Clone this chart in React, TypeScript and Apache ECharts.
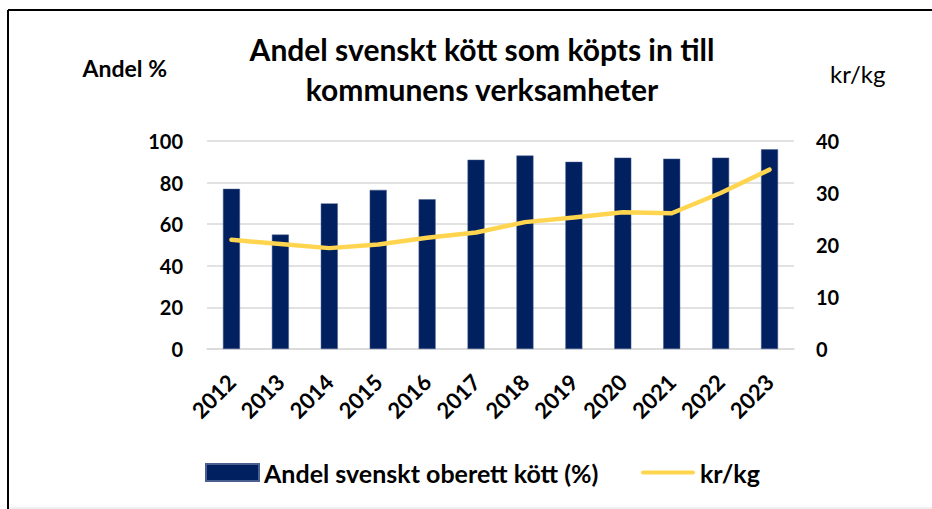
import React, { useEffect, useRef } from "react";
import * as echarts from "echarts";

const years = ["2012", "2013", "2014", "2015", "2016", "2017", "2018", "2019", "2020", "2021", "2022", "2023"];
const andelSvenskt = [77, 55, 70, 76.5, 72, 91, 93, 90, 92, 91.5, 92, 96];
const krPerKg = [21, 20.2, 19.4, 20.1, 21.4, 22.4, 24.4, 25.3, 26.3, 26.1, 30, 34.5];
const leftTicks = { min: 0, max: 100, interval: 20 };
const rightTicks = { min: 0, max: 40, interval: 10 };

const FONT = "Lato";
const BAR_COLOR = "#002060";
const LINE_COLOR = "#FFD54F";

export default function App() {
  const ref = useRef<HTMLDivElement>(null);
  useEffect(() => {
    if (!ref.current) return;
    const chart = echarts.init(ref.current, null, { renderer: "svg" });
    chart.setOption({
      animation: false,
      backgroundColor: "#ffffff",
      textStyle: { fontFamily: FONT },
      title: {
        text: "Andel svenskt kött som köpts in till\nkommunens verksamheter",
        left: 477,
        textAlign: "center",
        top: 24,
        textStyle: { fontFamily: FONT, fontSize: 30, fontWeight: "bold", color: "#000", lineHeight: 40 },
      },
      graphic: [
        { type: "line", shape: { x1: 8, y1: 10, x2: 932, y2: 10 }, style: { stroke: "#000", lineWidth: 2 } },
        { type: "line", shape: { x1: 8, y1: 10, x2: 8, y2: 509 }, style: { stroke: "#000", lineWidth: 2 } },
        { type: "line", shape: { x1: 9, y1: 508, x2: 932, y2: 508 }, style: { stroke: "#e0e0e0", lineWidth: 1 } },
      ],
      legend: [
        {
          data: ["Andel svenskt oberett kött (%)"],
          left: 205,
          top: 460,
          padding: 0,
          itemWidth: 53,
          itemHeight: 17,
          itemGap: 5,
          icon: "rect",
          textStyle: { fontFamily: FONT, fontSize: 25, fontWeight: "bold", color: "#000" },
        },
        {
          data: ["kr/kg"],
          left: 641,
          top: 460,
          padding: 0,
          itemWidth: 54,
          itemHeight: 17,
          icon: "path://M2,6 L52,6 A2,2 0 0 1 52,10 L2,10 A2,2 0 0 1 2,6 Z",
          textStyle: { fontFamily: FONT, fontSize: 25, fontWeight: "bold", color: "#000" },
        },
      ],
      grid: { left: 207, right: 138, top: 141, bottom: 160, containLabel: false },
      xAxis: {
        type: "category",
        data: years,
        axisTick: { show: false },
        axisLine: { lineStyle: { color: "#D9D9D9", width: 1.5 } },
        axisLabel: {
          rotate: 45,
          margin: 29,
          fontFamily: FONT,
          fontSize: 22,
          fontWeight: "bold",
          color: "#000",
        },
      },
      yAxis: [
        {
          type: "value",
          ...leftTicks,
          name: "Andel %",
          nameLocation: "end",
          nameGap: 62,
          nameTextStyle: { fontFamily: FONT, fontSize: 23, fontWeight: "bold", color: "#000", align: "right", padding: [0, 40, 0, 0] },
          axisLine: { show: false },
          axisTick: { show: false },
          axisLabel: { margin: 24, fontFamily: FONT, fontSize: 20, fontWeight: "bold", color: "#000" },
          splitLine: { lineStyle: { color: "#D9D9D9", width: 1.5 } },
        },
        {
          type: "value",
          ...rightTicks,
          name: "kr/kg",
          nameLocation: "end",
          nameGap: 56,
          nameTextStyle: { fontFamily: FONT, fontSize: 24, color: "#000", align: "left", padding: [0, 0, 0, 36] },
          axisLine: { show: false },
          axisTick: { show: false },
          axisLabel: { margin: 22, fontFamily: FONT, fontSize: 20, fontWeight: "bold", color: "#000" },
          splitLine: { show: false },
        },
      ],
      series: [
        {
          name: "Andel svenskt oberett kött (%)",
          type: "bar",
          data: andelSvenskt,
          barWidth: 17,
          itemStyle: { color: BAR_COLOR, borderColor: "#4a5f8f", borderWidth: 0.5 },
          yAxisIndex: 0,
        },
        {
          name: "kr/kg",
          type: "line",
          data: krPerKg,
          yAxisIndex: 1,
          symbol: "none",
          lineStyle: { color: LINE_COLOR, width: 4.5, cap: "round", join: "round" },
          itemStyle: { color: LINE_COLOR },
        },
      ],
    });
    return () => chart.dispose();
  }, []);
  return <div ref={ref} style={{ position: "fixed", left: 0, top: 0, width: 932, height: 509 }} />;
}
